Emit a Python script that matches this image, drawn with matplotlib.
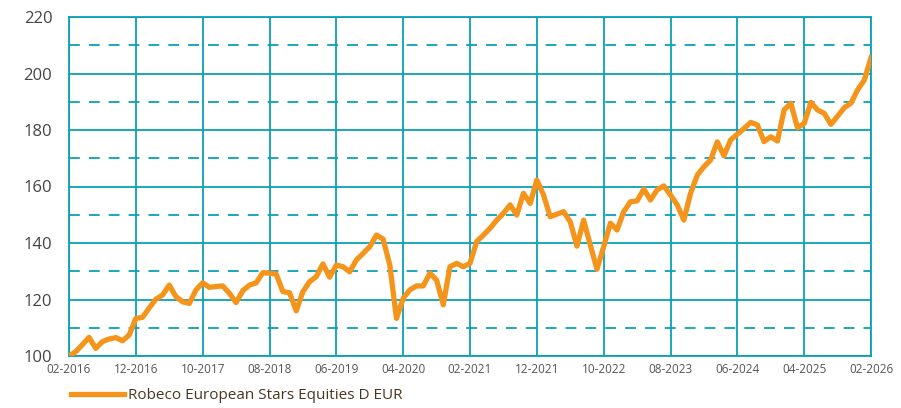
import numpy as np
import matplotlib
matplotlib.use("Agg")
import matplotlib.pyplot as plt

# monthly values, 02-2016 .. 02-2026
wartosci = [
    100.0, 101.5, 104.0, 106.6, 102.7, 105.1, 106.0, 106.5, 105.4, 107.4,
    113.3, 113.7, 117.0, 120.1, 121.6, 125.1, 121.0, 119.2, 118.6, 123.4,
    125.9, 124.3, 124.6, 124.8, 122.2, 118.9, 123.1, 125.1, 125.9, 129.5,
    129.3, 129.0, 122.8, 122.4, 116.0, 122.8, 126.3, 128.1, 132.6, 127.9,
    132.2, 131.6, 129.8, 134.0, 136.3, 138.7, 142.8, 141.4, 132.2, 113.3,
    120.4, 123.4, 124.8, 124.8, 129.3, 126.9, 118.1, 131.6, 132.8, 131.6,
    132.8, 140.5, 142.8, 145.2, 148.1, 150.5, 153.5, 149.9, 157.6, 154.0,
    162.3, 157.0, 149.3, 150.2, 151.1, 147.5, 138.9, 148.1, 139.3, 130.7,
    138.7, 147.0, 144.6, 151.1, 154.6, 154.9, 159.1, 155.2, 158.8, 160.2,
    157.0, 153.5, 148.1, 157.6, 164.0, 167.0, 169.4, 175.8, 170.9, 176.5,
    178.5, 180.5, 182.7, 181.8, 175.9, 177.6, 176.1, 187.1, 189.5, 180.8,
    182.3, 189.8, 187.1, 185.9, 182.0, 184.9, 187.9, 189.5, 194.2, 197.7,
    205.6,
]
etykiety_x = ["02-2016", "12-2016", "10-2017", "08-2018", "06-2019", "04-2020",
              "02-2021", "12-2021", "10-2022", "08-2023", "06-2024", "04-2025",
              "02-2026"]
nazwa = "Robeco European Stars Equities D EUR"

kolor_siatki = "#0aa1b7"
kolor_linii = "#f5941a"

plt.rcParams["font.family"] = ["Open Sans", "DejaVu Sans"]

fig = plt.figure(figsize=(9.01, 4.08), dpi=100)
ax = fig.add_axes([69 / 901, 52 / 408, 802 / 901, 339 / 408])

miesiace = np.arange(len(wartosci))
linia, = ax.plot(miesiace, wartosci, color=kolor_linii, lw=3.8,
                 solid_joinstyle="round", zorder=3, label=nazwa)

ax.set_xlim(0, len(wartosci) - 1)
ax.set_ylim(100, 220)
ax.set_xticks(np.arange(0, len(wartosci), 10))
ax.set_xticklabels(etykiety_x)
ax.set_yticks(np.arange(100, 221, 20))
ax.set_yticks(np.arange(110, 220, 20), minor=True)

ax.grid(True, which="major", color=kolor_siatki, lw=1.3)
ax.grid(True, which="minor", axis="y", color=kolor_siatki, lw=1.3,
        dashes=(6, 5))
ax.set_axisbelow(True)
for s in ax.spines.values():
    s.set_color(kolor_siatki)
    s.set_linewidth(1.3)

ax.tick_params(which="both", length=0)
ax.tick_params(axis="y", labelsize=12, colors="#444444", pad=12)
ax.tick_params(axis="x", labelsize=8.5, colors="#555555", pad=5)

fig.legend(handles=[linia], loc="center left", bbox_to_anchor=(0.072, 0.03),
           frameon=False, fontsize=11, handlelength=3.5, handletextpad=0.2,
           labelcolor="#4a3520", borderaxespad=0)

fig.savefig("out.png", dpi=100)
